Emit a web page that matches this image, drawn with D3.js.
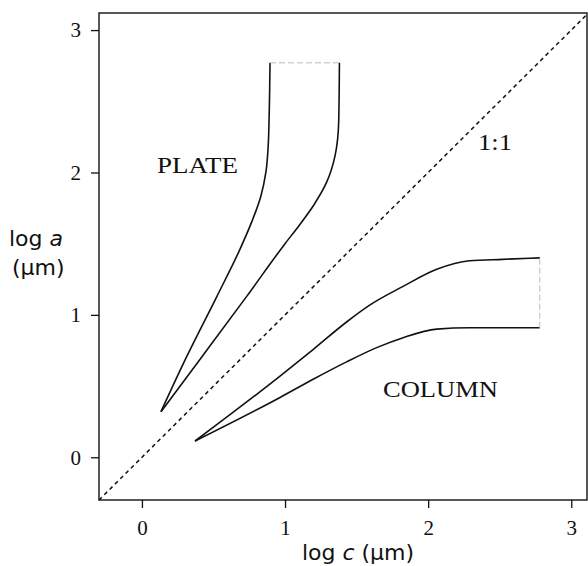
<!DOCTYPE html>
<html lang="en">
<head>
<meta charset="utf-8" />
<title>Plate and column habit regions</title>
<style>
  body { margin: 0; background: #fff; }
  svg { display: block; }
  .tick text { font-family: 'Liberation Serif', serif; font-size: 21px; fill: #111; }
  .tick line { stroke: #111; stroke-width: 1.3px; }
  .curve { fill: none; stroke: #111; stroke-width: 1.6px; }
  .edge { fill: none; stroke: #bbb; stroke-width: 1px; stroke-dasharray: 6 3; }
  .oneone { fill: none; stroke: #111; stroke-width: 1.5px; stroke-dasharray: 4 3.5; }
  .region { font-family: 'Liberation Serif', serif; font-size: 23px; fill: #111; }
  .axlabel { font-family: 'DejaVu Sans', sans-serif; font-size: 22px; fill: #111; }
</style>
</head>
<body>
<div id="chart"></div>
<script src="https://d3js.org/d3.v7.min.js"></script>
<script>
// ---- data: [log c, log a] ----
const plateLeft  = [[0.133,0.32],[0.30,0.68],[0.524,1.13],[0.68,1.45],[0.77,1.66],[0.83,1.83],[0.866,2.00],[0.882,2.18],[0.889,2.40],[0.895,2.77]];
const plateRight = [[0.133,0.32],[0.40,0.68],[0.732,1.13],[1.00,1.50],[1.10,1.63],[1.20,1.77],[1.29,1.93],[1.35,2.12],[1.375,2.36],[1.38,2.77]];
const columnUpper = [[0.371,0.114],[0.965,0.57],[1.20,0.76],[1.43,0.95],[1.594,1.07],[1.825,1.20],[2.06,1.32],[2.29,1.38],[2.52,1.39],[2.78,1.40]];
const columnLower = [[0.371,0.114],[0.965,0.42],[1.20,0.55],[1.43,0.67],[1.64,0.77],[1.825,0.84],[2.06,0.90],[2.29,0.91],[2.52,0.91],[2.78,0.91]];
const plateTop = [[0.895,2.77],[1.38,2.77]];
const columnEnd = [[2.78,0.91],[2.78,1.40]];
const oneToOne = [[-0.3,-0.3],[3.11,3.11]];
const xTicks = [0, 1, 2, 3];
const yTicks = [0, 1, 2, 3];

// ---- layout ----
const W = 588, H = 566;
const plot = { left: 99, right: 587, top: 13, bottom: 500 };

const x = d3.scaleLinear().domain([-0.3, 3.11]).range([plot.left, plot.right]);
const y = d3.scaleLinear().domain([-0.3, 3.12]).range([plot.bottom, plot.top]);

const svg = d3.select("#chart").append("svg")
    .attr("width", W)
    .attr("height", H);

// axes (ticks point outward)
const gx = svg.append("g")
    .attr("transform", `translate(0,${plot.bottom})`)
    .call(d3.axisBottom(x).tickValues(xTicks).tickFormat(d3.format("d")).tickSize(8).tickPadding(12));
gx.select(".domain").remove();

const gy = svg.append("g")
    .attr("transform", `translate(${plot.left},0)`)
    .call(d3.axisLeft(y).tickValues(yTicks).tickFormat(d3.format("d")).tickSize(8).tickPadding(10));
gy.select(".domain").remove();

// frame
svg.append("rect")
    .attr("x", plot.left).attr("y", plot.top)
    .attr("width", plot.right - plot.left)
    .attr("height", plot.bottom - plot.top)
    .attr("fill", "none")
    .attr("stroke", "#111")
    .attr("stroke-width", 1.4);

const straight = d3.line().x(d => x(d[0])).y(d => y(d[1]));
// plate edges rise monotonically in log a, column edges in log c
const lineY = d3.line().x(d => x(d[0])).y(d => y(d[1])).curve(d3.curveMonotoneY);
const lineX = d3.line().x(d => x(d[0])).y(d => y(d[1])).curve(d3.curveMonotoneX);

svg.append("path").attr("class", "oneone").attr("d", straight(oneToOne));

[plateLeft, plateRight].forEach(c => {
  svg.append("path").attr("class", "curve").attr("d", lineY(c));
});
[columnUpper, columnLower].forEach(c => {
  svg.append("path").attr("class", "curve").attr("d", lineX(c));
});

[plateTop, columnEnd].forEach(c => {
  svg.append("path").attr("class", "edge").attr("d", straight(c));
});

// region labels
svg.append("text").attr("class", "region")
    .attr("x", 157).attr("y", 173)
    .attr("textLength", 81).attr("lengthAdjust", "spacingAndGlyphs")
    .text("PLATE");
svg.append("text").attr("class", "region")
    .attr("x", 383).attr("y", 397)
    .attr("textLength", 115).attr("lengthAdjust", "spacingAndGlyphs")
    .text("COLUMN");
svg.append("text").attr("class", "region")
    .attr("x", 478).attr("y", 150)
    .attr("textLength", 34).attr("lengthAdjust", "spacingAndGlyphs")
    .text("1:1");

// axis titles
const yl = svg.append("text").attr("class", "axlabel").attr("x", 9).attr("y", 246);
yl.append("tspan").text("log ");
yl.append("tspan").attr("font-style", "italic").text("a");
svg.append("text").attr("class", "axlabel")
    .attr("x", 12).attr("y", 275)
    .text("(\u00b5m)");

const xl = svg.append("text").attr("class", "axlabel")
    .attr("x", 358).attr("y", 560).attr("text-anchor", "middle");
xl.append("tspan").text("log ");
xl.append("tspan").attr("font-style", "italic").text("c");
xl.append("tspan").text("  (\u00b5m)");
</script>
</body>
</html>
